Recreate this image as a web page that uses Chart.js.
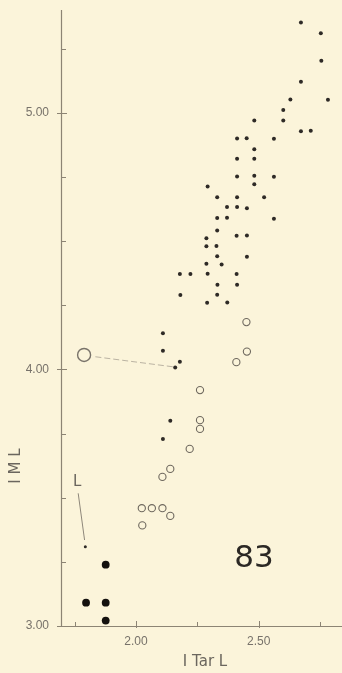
<!DOCTYPE html>
<html lang="en">
<head>
    <meta charset="UTF-8">
    <title>IML vs I Tar L</title>
    <style>
        html, body {
            margin: 0;
            padding: 0;
            background: #fbf4da;
        }
        #wrap {
            position: relative;
            width: 342px;
            height: 673px;
        }
    </style>
</head>
<body>
    <div id="wrap"><canvas id="myChart"></canvas></div>

    <script src="https://cdn.jsdelivr.net/npm/chart.js"></script>
    <script>
    // values
    var filledPts = [
        [2.672, 5.351], [2.753, 5.309], [2.755, 5.202], [2.672, 5.120], [2.629, 5.051],
        [2.782, 5.050], [2.600, 5.010], [2.600, 4.969], [2.482, 4.969], [2.672, 4.928],
        [2.712, 4.930], [2.412, 4.899], [2.451, 4.900], [2.562, 4.898], [2.482, 4.857],
        [2.412, 4.820], [2.482, 4.820], [2.412, 4.751], [2.482, 4.754], [2.562, 4.750],
        [2.482, 4.721], [2.292, 4.712], [2.331, 4.670], [2.412, 4.670], [2.522, 4.670],
        [2.371, 4.632], [2.412, 4.632], [2.452, 4.628], [2.331, 4.590], [2.371, 4.591],
        [2.562, 4.587], [2.331, 4.541], [2.410, 4.520], [2.452, 4.521], [2.287, 4.511],
        [2.287, 4.480], [2.328, 4.481], [2.331, 4.441], [2.452, 4.439], [2.287, 4.411],
        [2.349, 4.408], [2.179, 4.371], [2.222, 4.371], [2.292, 4.372], [2.410, 4.371],
        [2.332, 4.330], [2.412, 4.330], [2.181, 4.290], [2.331, 4.291], [2.290, 4.259],
        [2.372, 4.260], [2.110, 4.141], [2.110, 4.072], [2.179, 4.030], [2.160, 4.007],
        [2.140, 3.800], [2.110, 3.729]
    ];
    var openPts = [
        [2.450, 4.184], [2.452, 4.069], [2.409, 4.028], [2.261, 3.919], [2.261, 3.802],
        [2.261, 3.768], [2.219, 3.690], [2.140, 3.612], [2.108, 3.581], [2.024, 3.459],
        [2.065, 3.459], [2.108, 3.459], [2.140, 3.429], [2.026, 3.392]
    ];
    var bigPts = [[1.877, 3.239], [1.797, 3.091], [1.877, 3.091], [1.877, 3.021]];
    var lPts = [[1.794, 3.309]];
    var markerPts = [[1.789, 4.056]];
    // leader lines (from label / key circle to the point)
    var markerLeader = [[1.835, 4.049], [2.150, 4.010]];
    var lLeader = [[1.765, 3.517], [1.791, 3.335]];

    var xMajor = [2.00, 2.50];
    var xMinor = [1.75, 2.25, 2.75];
    var xTickLabels = ['2.00', '2.50'];
    var yMajor = [3.00, 4.00, 5.00];
    var yMinor = [3.25, 3.50, 3.75, 4.25, 4.50, 4.75, 5.25];
    var yTickLabels = ['3.00', '4.00', '5.00'];

    function toXY(arr) {
        return arr.map(function (p) { return { x: p[0], y: p[1] }; });
    }

    // axes, ticks and the lettering, drawn on the library's scales
    var platePlugin = {
        id: 'plate',
        afterDatasetsDraw: function (chart) {
            var ctx = chart.ctx;
            var xs = chart.scales.x, ys = chart.scales.y;
            var left = chart.chartArea.left, bottom = chart.chartArea.bottom, top = chart.chartArea.top;
            ctx.save();
            ctx.strokeStyle = '#8c8474';
            ctx.lineWidth = 1.2;
            ctx.beginPath();
            ctx.moveTo(left + 0.5, top);
            ctx.lineTo(left + 0.5, bottom);
            ctx.moveTo(left - 4, bottom + 0.5);
            ctx.lineTo(chart.width, bottom + 0.5);
            ctx.stroke();

            ctx.lineWidth = 1;
            ctx.beginPath();
            yMajor.forEach(function (v) {
                var py = Math.round(ys.getPixelForValue(v)) + 0.5;
                ctx.moveTo(left - 4, py); ctx.lineTo(left + 6, py);
            });
            yMinor.forEach(function (v) {
                var py = Math.round(ys.getPixelForValue(v)) + 0.5;
                ctx.moveTo(left, py); ctx.lineTo(left + 5, py);
            });
            xMajor.forEach(function (v) {
                var px = Math.round(xs.getPixelForValue(v)) + 0.5;
                ctx.moveTo(px, bottom + 2); ctx.lineTo(px, bottom - 5);
            });
            xMinor.forEach(function (v) {
                var px = Math.round(xs.getPixelForValue(v)) + 0.5;
                ctx.moveTo(px, bottom); ctx.lineTo(px, bottom - 4);
            });
            ctx.stroke();

            ctx.fillStyle = '#77726a';
            ctx.font = '12px "Liberation Sans Narrow", "Liberation Sans", sans-serif';
            ctx.textAlign = 'right';
            ctx.textBaseline = 'middle';
            yMajor.forEach(function (v, i) {
                ctx.fillText(yTickLabels[i], left - 12, ys.getPixelForValue(v));
            });
            ctx.textAlign = 'center';
            ctx.textBaseline = 'top';
            xMajor.forEach(function (v, i) {
                ctx.fillText(xTickLabels[i], xs.getPixelForValue(v), bottom + 10);
            });

            ctx.fillStyle = '#6b665e';
            ctx.font = '15px "DejaVu Sans", sans-serif';
            ctx.textBaseline = 'middle';
            ctx.fillText('I Tar L', 205, 662);
            ctx.save();
            ctx.translate(16, 466);
            ctx.rotate(-Math.PI / 2);
            ctx.fillText('I M L', 0, 0);
            ctx.restore();

            ctx.fillStyle = '#6b665e';
            ctx.font = '15px "DejaVu Sans", sans-serif';
            ctx.fillText('L', xs.getPixelForValue(lLeader[0][0]) - 1, ys.getPixelForValue(lLeader[0][1]) - 11);

            ctx.fillStyle = '#2b2824';
            ctx.font = '31px "DejaVu Sans", sans-serif';
            ctx.fillText('83', 254, 559);
            ctx.restore();
        }
    };

    var ctx = document.getElementById('myChart').getContext('2d');
    window.myChart = new Chart(ctx, {
        type: 'scatter',
        data: {
            datasets: [{
                label: 'leader key',
                type: 'line',
                data: toXY(markerLeader),
                borderColor: '#aaa294',
                borderWidth: 0.8,
                borderDash: [6, 3],
                pointRadius: 0,
                showLine: true
            }, {
                label: 'leader L',
                type: 'line',
                data: toXY(lLeader),
                borderColor: '#8e877a',
                borderWidth: 1,
                pointRadius: 0,
                showLine: true
            }, {
                label: 'filled',
                data: toXY(filledPts),
                backgroundColor: '#2e2a26',
                borderWidth: 0,
                pointRadius: 2
            }, {
                label: 'open',
                data: toXY(openPts),
                backgroundColor: 'rgba(0,0,0,0)',
                borderColor: '#6e685e',
                borderWidth: 1.1,
                pointRadius: 3.6
            }, {
                label: 'big',
                data: toXY(bigPts),
                backgroundColor: '#14110e',
                borderWidth: 0,
                pointRadius: 3.9
            }, {
                label: 'L',
                data: toXY(lPts),
                backgroundColor: '#2e2a26',
                borderWidth: 0,
                pointRadius: 1.5
            }, {
                label: 'key',
                data: toXY(markerPts),
                backgroundColor: 'rgba(0,0,0,0)',
                borderColor: '#79736a',
                borderWidth: 1.4,
                pointRadius: 6.5
            }]
        },
        options: {
            responsive: true,
            maintainAspectRatio: false,
            animation: false,
            clip: false,
            layout: {
                padding: { left: 61, right: 0, top: 10, bottom: 47 }
            },
            plugins: {
                legend: { display: false },
                tooltip: { enabled: false }
            },
            scales: {
                x: { type: 'linear', min: 1.695, max: 2.807, display: false },
                y: { type: 'linear', min: 3.00, max: 5.40, display: false }
            }
        },
        plugins: [platePlugin]
    });
    </script>
</body>
</html>
